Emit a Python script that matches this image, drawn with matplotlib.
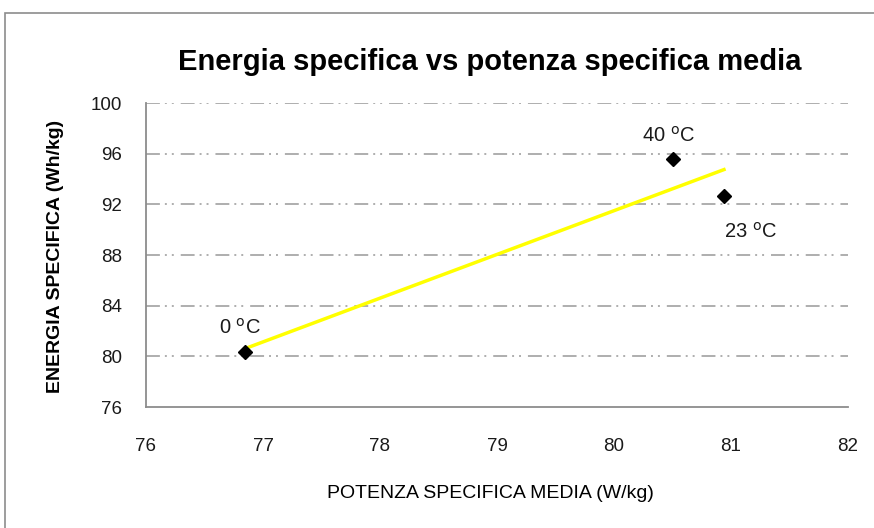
import numpy as np
import matplotlib
matplotlib.use('Agg')
import matplotlib.pyplot as plt
from matplotlib.patches import Rectangle

plt.rcParams['font.family'] = ['Liberation Sans', 'DejaVu Sans']
plt.rcParams['lines.scale_dashes'] = False

# data
potenza = [76.85, 80.50, 80.94]      # W/kg
energia = [80.37, 95.56, 92.66]      # Wh/kg
etichette = ['0 $^{\\mathrm{o}}$C', '40 $^{\\mathrm{o}}$C', '23 $^{\\mathrm{o}}$C']
offsets = [(-4, 17), (-3, 17), (19, -26)]
xticks = [76, 77, 78, 79, 80, 81, 82]
yticks = [76, 80, 84, 88, 92, 96, 100]

fig = plt.figure(figsize=(8.74, 5.28), dpi=100)
fig.patches.append(Rectangle((5 / 874, -0.1), 1.2, 1 - 13 / 528 + 0.1, transform=fig.transFigure,
                             fill=False, edgecolor='#8c8c8c', linewidth=1.2))

ax = fig.add_axes([146 / 874, 1 - 407 / 528, 702 / 874, 304 / 528])
ax.set_xlim(76, 82)
ax.set_ylim(76, 100)
ax.set_xticks(xticks)
ax.set_yticks(yticks)
ax.tick_params(length=0, labelsize=13.5, colors='#1a1a1a')
ax.tick_params(axis='x', pad=22)
ax.tick_params(axis='y', pad=17)

for s in ['top', 'right']:
    ax.spines[s].set_visible(False)
for s in ['left', 'bottom']:
    ax.spines[s].set_color('#8c8c8c')
    ax.spines[s].set_linewidth(1.3)

for y in yticks[1:]:
    ax.axhline(y, color='#999999', linewidth=1.1, dashes=(10, 3.6, 1.4, 3.6, 1.4, 5), zorder=1)

# linear trend line
k, q = np.polyfit(potenza, energia, 1)
xt = np.array([min(potenza), max(potenza)])
ax.plot(xt, k * xt + q, color='#ffff00', linewidth=2.5, zorder=2)

ax.plot(potenza, energia, linestyle='none', marker='D', markersize=7.5, color='black', zorder=3)

for x, y, t, o in zip(potenza, energia, etichette, offsets):
    ax.annotate(t, (x, y), xytext=o, textcoords='offset points', ha='center', va='center',
                fontsize=14.5, color='#1a1a1a')

fig.text(490 / 874, 1 - 62 / 528, 'Energia specifica vs potenza specifica media',
         ha='center', va='center', fontsize=21, fontweight='bold')
fig.text(490 / 874, 1 - 493 / 528, 'POTENZA SPECIFICA MEDIA (W/kg)', ha='center', va='center', fontsize=14)
fig.text(56 / 874, 1 - 256 / 528, 'ENERGIA SPECIFICA (Wh/kg)', ha='center', va='center',
         rotation=90, fontsize=14, fontweight='bold')

fig.savefig('out.png', dpi=100)
